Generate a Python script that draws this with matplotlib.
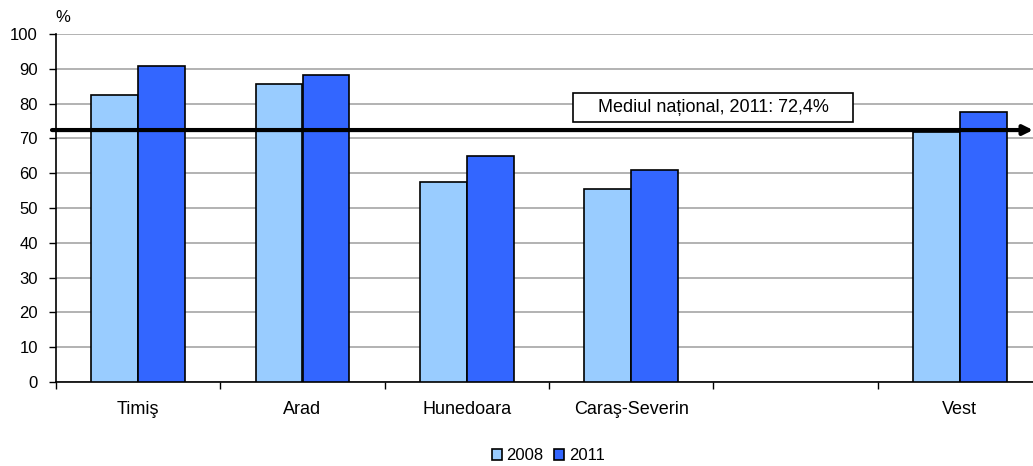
import numpy as np
import matplotlib
matplotlib.use("Agg")
import matplotlib.pyplot as plt
from matplotlib.patches import Rectangle
from matplotlib.transforms import blended_transform_factory

plt.rcParams['font.family'] = ['Liberation Sans', 'DejaVu Sans']

# data
categories = ["Timiş", "Arad", "Hunedoara", "Caraş-Severin", "", "Vest"]
val_2008 = [82.5, 85.6, 57.6, 55.5, np.nan, 71.9]
val_2011 = [90.8, 88.2, 65.0, 60.8, np.nan, 77.5]
national = 72.4
national_label = "Mediul național, 2011: 72,4%"
years = ["2008", "2011"]

fig = plt.figure(figsize=(10.33, 4.66), dpi=100)
ax = fig.add_axes([56/1033, 84/466, 986/1033, 348/466])

x = np.arange(len(categories)) + 0.5
w = 0.286
ax.bar(x - w/2, val_2008, w, color="#99CCFF", edgecolor="black", linewidth=1.2, label=years[0], zorder=3)
ax.bar(x + w/2, val_2011, w, color="#3366FF", edgecolor="black", linewidth=1.2, label=years[1], zorder=3)

ax.set_xlim(0, len(categories))
ax.set_ylim(0, 100)
ax.set_yticks(np.arange(0, 101, 10))
ax.yaxis.grid(True, color="#a6a6a6", linewidth=1.2, zorder=0)
ax.set_axisbelow(True)

# category boundaries as major ticks, names as minor ticks
ax.set_xticks(np.arange(0, len(categories) + 1))
ax.set_xticklabels([])
ax.set_xticks(x, minor=True)
ax.set_xticklabels(categories, minor=True)
ax.tick_params(axis='x', which='major', length=5, width=1, direction='out')
ax.tick_params(axis='x', which='minor', length=0, pad=14, labelsize=13)
ax.tick_params(axis='y', length=5, width=1, direction='out', labelsize=12, pad=8)

for s in ["top", "right"]:
    ax.spines[s].set_visible(False)
ax.spines["left"].set_linewidth(1.2)
ax.spines["bottom"].set_linewidth(1.2)

ax.text(-0.001, 1.026, "%", transform=ax.transAxes, fontsize=12, ha="left", va="bottom")

# national average line with arrow
ax.annotate('', xy=(1.0, national), xycoords=('figure fraction', 'data'),
            xytext=(52/1033, national), textcoords=('figure fraction', 'data'),
            arrowprops=dict(arrowstyle='-|>', lw=3, color='black', mutation_scale=14,
                            shrinkA=0, shrinkB=0),
            annotation_clip=False, zorder=5)

# label box
fig.patches.append(Rectangle((573/1033, (466-122)/466), 280/1033, 29/466,
                             transform=fig.transFigure, fc="white", ec="black",
                             lw=1.2, zorder=6))
fig.text(713/1033, (466-107.5)/466, national_label, ha="center", va="center",
         fontsize=13, zorder=7)

fig.legend(loc="center", bbox_to_anchor=(548/1033, 10/466), ncol=2, frameon=False,
           handlelength=0.6, handleheight=0.6, columnspacing=0.6, handletextpad=0.3,
           fontsize=12)

fig.savefig("out.png", dpi=100)
